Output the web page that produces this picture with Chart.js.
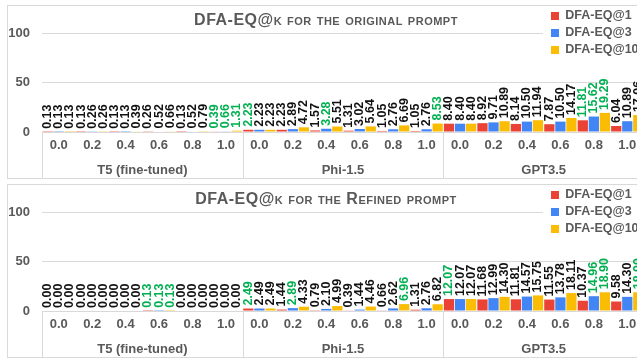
<!DOCTYPE html>
<html><head><meta charset="utf-8">
<script src="https://cdn.jsdelivr.net/npm/chart.js@4.4.1/dist/chart.umd.min.js"></script>
<style>
html,body{margin:0;padding:0;background:#fff;overflow:hidden;width:637px;height:360px;}
.panel{position:absolute;left:7px;width:646px;height:172px;border:1px solid #d9d9d9;background:#fff;}
#p1{top:5px} #p2{top:184px}
canvas{display:block}
</style></head><body>
<div class="panel" id="p1"><canvas id="c1" width="646" height="172"></canvas></div>
<div class="panel" id="p2"><canvas id="c2" width="646" height="172"></canvas></div>
<script>
// ---- data ----
const models = ['T5 (fine-tuned)', 'Phi-1.5', 'GPT3.5'];
const temperatures = ['0.0', '0.2', '0.4', '0.6', '0.8', '1.0'];
const seriesNames = ['DFA-EQ@1', 'DFA-EQ@3', 'DFA-EQ@10'];
const yTicks = [0, 50, 100];

// original prompt (T5 x6, Phi-1.5 x6, GPT3.5 x6)
const originalAt1  = [0.13, 0.13, 0.13, 0.26, 0.13, 0.39,  2.23, 2.23, 1.57, 1.31, 1.05, 1.05,  8.40, 8.92, 8.14, 7.87, 11.81, 6.04];
const originalAt3  = [0.13, 0.26, 0.13, 0.52, 0.52, 0.66,  2.23, 2.89, 3.28, 3.02, 2.76, 2.76,  8.40, 9.71, 10.50, 10.50, 15.62, 10.89];
const originalAt10 = [0.13, 0.26, 0.39, 0.66, 0.79, 1.31,  2.23, 4.72, 5.51, 5.64, 6.69, 8.53,  8.40, 10.89, 11.94, 14.17, 19.29, 17.06];
// best (highlighted) indices per series
const originalBest = [[5, 6, 16], [5, 8, 16], [5, 11, 16]];

// refined prompt
const refinedAt1  = [0.00, 0.00, 0.00, 0.13, 0.00, 0.00,  2.49, 1.44, 0.79, 0.39, 0.66, 1.31,  12.07, 11.68, 11.81, 11.55, 10.37, 9.58];
const refinedAt3  = [0.00, 0.00, 0.00, 0.13, 0.00, 0.00,  2.49, 2.89, 2.10, 1.44, 2.62, 2.76,  12.07, 12.99, 14.57, 13.78, 14.96, 14.30];
const refinedAt10 = [0.00, 0.00, 0.00, 0.13, 0.00, 0.00,  2.49, 4.33, 4.99, 4.46, 6.96, 6.82,  12.07, 14.30, 15.75, 18.11, 18.90, 18.90];
const refinedBest = [[3, 6, 12], [3, 7, 16], [3, 10, 16, 17]];

// ---- styling ----
const FAMILY = "'Liberation Sans', Arial, sans-serif";
const GRAY = '#595959';
const LINE = '#d9d9d9';
const COLORS = ['#EA4335', '#4285F4', '#FBBC04'];
const GREEN = '#00b050';

const categoryLabels = models.flatMap(() => temperatures);

const panelPlugin = {
  id: 'panelPlugin',
  afterLayout(chart) {
    const tb = chart.titleBlock;
    if (tb && !tb._wrapped) {
      const o = tb.draw;
      tb.draw = function () {
        this.ctx.save();
        this.ctx.letterSpacing = '0.5px';
        o.call(this);
        this.ctx.restore();
      };
      tb._wrapped = true;
    }
    const lg = chart.legend;
    if (!lg) return;
    const w = lg.width, h = 60;
    lg.left = 538.5; lg.right = lg.left + w + 40; lg.width = lg.right - lg.left;
    lg.top = -0.75; lg.height = h; lg.bottom = lg.top + h;
    if (!lg._wrapped) {
      const orig = lg.draw;
      lg.draw = function (area) {
        const c = this.ctx;
        c.save();
        c.fillStyle = '#ffffff';
        c.fillRect(535, 0, 200, 58);
        c.restore();
        orig.call(this, area);
      };
      lg._wrapped = true;
    }
  },
  afterDatasetsDraw(chart) {
    const ctx = chart.ctx;
    const a = chart.chartArea;
    ctx.save();
    // model separators
    const n = chart.data.labels.length;
    const step = a.width / n;
    ctx.strokeStyle = LINE;
    ctx.lineWidth = 1;
    for (let i = 0; i <= n; i += temperatures.length) {
      const x = Math.round(a.left + i * step) + 0.5;
      ctx.beginPath();
      ctx.moveTo(x, a.bottom);
      ctx.lineTo(x, chart.height);
      ctx.stroke();
    }
    // value labels
    ctx.font = 'bold 12.5px ' + FAMILY;
    ctx.textAlign = 'left';
    ctx.textBaseline = 'middle';
    chart.data.datasets.forEach((ds, di) => {
      const meta = chart.getDatasetMeta(di);
      meta.data.forEach((bar, i) => {
        const v = ds.data[i];
        ctx.fillStyle = ds.best.includes(i) ? GREEN : '#111111';
        ctx.save();
        ctx.translate(bar.x, bar.y - 3);
        ctx.rotate(-Math.PI / 2);
        ctx.fillText(v.toFixed(2), 0, 0);
        ctx.restore();
      });
    });
    ctx.restore();
  }
};

function makeChart(id, title, s1, s3, s10, best) {
  const series = [s1, s3, s10];
  return new Chart(document.getElementById(id), {
    type: 'bar',
    data: {
      labels: categoryLabels,
      datasets: series.map((d, i) => ({
        label: seriesNames[i],
        data: d,
        best: best[i],
        backgroundColor: COLORS[i],
        borderWidth: 0,
        categoryPercentage: 0.99,
        barPercentage: 0.93,
        xAxisID: 'x',
        yAxisID: 'y'
      }))
    },
    options: {
      responsive: false,
      animation: false,
      events: [],
      layout: { padding: { left: 0, right: 10, top: 0, bottom: 0 } },
      plugins: {
        title: {
          display: true,
          text: title,
          color: GRAY,
          font: { family: FAMILY, size: 16, weight: 'small-caps bold', lineHeight: 1.125 },
          padding: { top: 6, bottom: 3 }
        },
        legend: {
          display: true,
          position: 'chartArea',
          align: 'start',
          labels: {
            boxWidth: 8, boxHeight: 8, padding: 4.5,
            color: GRAY,
            font: { family: FAMILY, size: 12.5, weight: 'bold' }
          }
        },
        tooltip: { enabled: false }
      },
      scales: {
        y: {
          min: yTicks[0], max: yTicks[yTicks.length - 1],
          afterBuildTicks: s => { s.ticks = yTicks.map(v => ({ value: v })); },
          ticks: { padding: 12, color: GRAY, font: { family: FAMILY, size: 13, weight: 'bold' } },
          grid: { color: LINE, drawTicks: false },
          border: { display: false },
          afterFit: s => { s.width = 34; }
        },
        x: {
          type: 'category',
          grid: { display: false, drawTicks: false },
          border: { display: true, color: LINE },
          ticks: { padding: 6, color: GRAY, autoSkip: false, maxRotation: 0, font: { family: FAMILY, size: 13, weight: 'bold' } },
          afterFit: s => { s.height = 26; }
        },
        x2: {
          type: 'category',
          position: 'bottom',
          labels: models,
          offset: true,
          grid: { display: false, drawTicks: false },
          border: { display: false },
          ticks: { padding: 5, color: GRAY, autoSkip: false, maxRotation: 0, font: { family: FAMILY, size: 13, weight: 'bold' } },
          afterFit: s => { s.height = 20; }
        }
      }
    },
    plugins: [panelPlugin]
  });
}

makeChart('c1', 'DFA-EQ@k for the original prompt', originalAt1, originalAt3, originalAt10, originalBest);
makeChart('c2', 'DFA-EQ@k for the Refined prompt', refinedAt1, refinedAt3, refinedAt10, refinedBest);
</script>
</body></html>
